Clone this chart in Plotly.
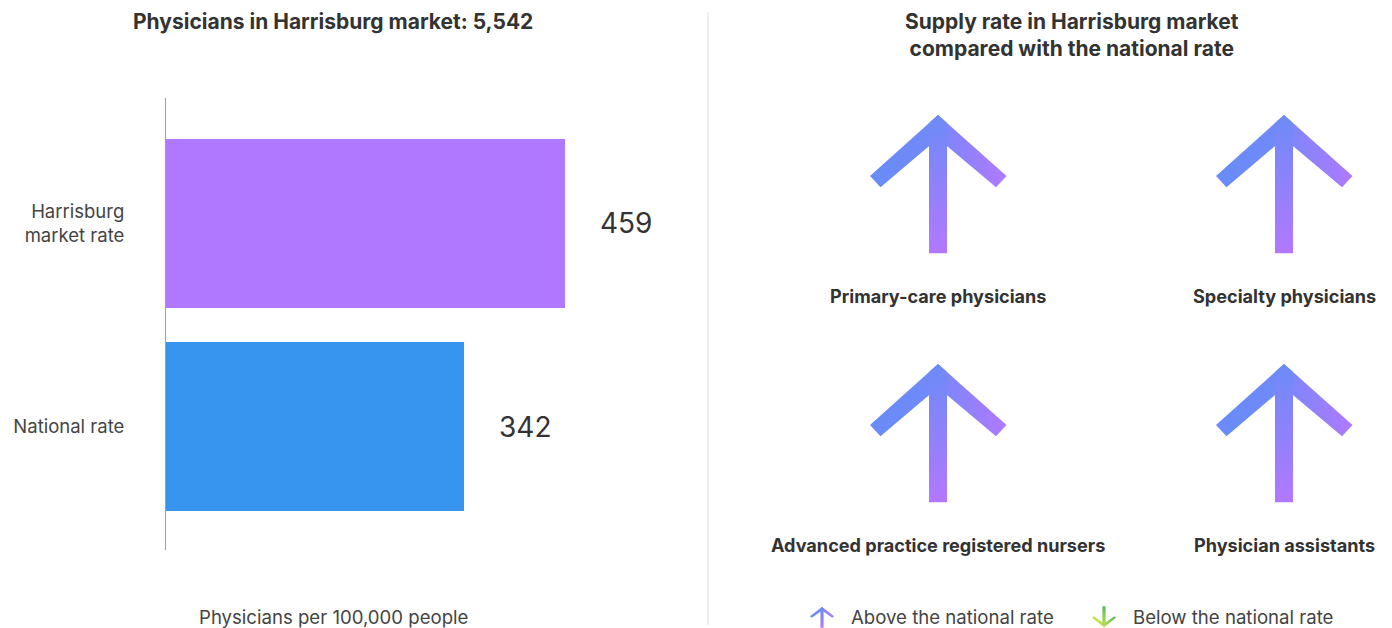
import plotly.graph_objects as go

W, H = 1392, 628
FONT = "Inter"

# ---------------- data ----------------
total_physicians = 5542
market_name = "Harrisburg"
bar_categories = ["Harrisburg<br>market rate", "National rate"]
bar_values = [459, 342]
bar_colors = ["#B077FF", "#3795EF"]

supply_categories = ["Primary-care physicians", "Specialty physicians",
                     "Advanced practice registered nursers", "Physician assistants"]
supply_direction = ["above", "above", "above", "above"]

legend_labels = ["Above the national rate", "Below the national rate"]
legend_direction = ["above", "below"]

# ---------------- helpers ----------------
def px(x):
    return x / W

def py(y):
    return 1 - y / H

UP_C0, UP_C1 = (104, 140, 247), (178, 120, 255)
DN_C0, DN_C1 = (196, 230, 70), (84, 186, 98)

def mix(c0, c1, t):
    return "rgb(%d,%d,%d)" % tuple(round(a + (b - a) * t) for a, b in zip(c0, c1))

# arrow template (relative to tip, pixel units, y downward)
LEFT_ARM = [(0, 0), (-68, 61), (-57.5, 72.3), (0, 23.4)]
RIGHT_ARM = [(0, 0), (68.5, 61), (58, 72.3), (0, 23.4)]
STEM = [(0, 0), (9, 8), (9, 138.3), (-9, 138.3), (-9, 8)]

fig = go.Figure()


def add_arrow(cx, tip, sx, sy, direction):
    c0, c1 = (UP_C0, UP_C1) if direction == "above" else (DN_C0, DN_C1)
    sign = 1 if direction == "above" else -1
    parts = [
        (LEFT_ARM, "horizontal", [[0, mix(c0, c1, 0.0)], [1, mix(c0, c1, 0.14)]]),
        (RIGHT_ARM, "horizontal", [[0, mix(c0, c1, 0.22)], [1, mix(c0, c1, 0.97)]]),
    ]
    if sign == 1:
        stem_cs = [[0, mix(c0, c1, 1.0)], [1, mix(c0, c1, 0.05)]]
    else:
        stem_cs = [[0, mix(c0, c1, 0.05)], [1, mix(c0, c1, 1.0)]]
    parts.append((STEM, "vertical", stem_cs))
    for pts, gtype, cs in parts:
        xs = [cx + dx * sx for dx, dy in pts] + [cx + pts[0][0] * sx]
        ys = [H - (tip + sign * dy * sy) for dx, dy in pts] + [H - (tip + sign * pts[0][1] * sy)]
        fig.add_trace(go.Scatter(
            x=xs, y=ys, mode="lines", fill="toself",
            fillgradient=dict(type=gtype, colorscale=cs),
            line=dict(width=0, color="rgba(0,0,0,0)"),
            xaxis="x2", yaxis="y2", hoverinfo="skip", showlegend=False))


# ---------------- left: bars ----------------
fig.add_trace(go.Bar(
    x=bar_values, y=bar_categories, orientation="h",
    marker=dict(color=bar_colors, line=dict(width=0)),
    width=0.8325, hoverinfo="skip", showlegend=False,
    xaxis="x", yaxis="y"))

annotations = []
for cat, v in zip(bar_categories, bar_values):
    annotations.append(dict(
        x=v, y=cat, xref="x", yref="y", xanchor="left", yanchor="middle",
        xshift=33, text=f"{v}", showarrow=False,
        font=dict(family=FONT, size=28, color="#333333")))

annotations.append(dict(
    x=px(333), y=py(22), xref="paper", yref="paper", xanchor="center", yanchor="middle",
    text=f"<b>Physicians in {market_name} market: {total_physicians:,}</b>",
    showarrow=False, font=dict(family=FONT, size=21, color="#333333")))
annotations.append(dict(
    x=px(333), y=py(617), xref="paper", yref="paper", xanchor="center", yanchor="middle",
    text="Physicians per 100,000 people", showarrow=False,
    font=dict(family=FONT, size=18.6, color="#444444")))

# ---------------- right: arrows ----------------
annotations.append(dict(
    x=px(1072), y=py(35.5), xref="paper", yref="paper", xanchor="center", yanchor="middle",
    text=f"<b>Supply rate in {market_name} market<br>compared with the national rate</b>",
    showarrow=False, font=dict(family=FONT, size=21, color="#333333")))

col_centers = [938, 1284]
row_tips = [115, 364]
for i, (cat, d) in enumerate(zip(supply_categories, supply_direction)):
    cx = col_centers[i % 2]
    tip = row_tips[i // 2]
    if d == "above":
        add_arrow(cx, tip, 1.0, 1.0, "above")
    else:
        add_arrow(cx, tip + 138, 1.0, 1.0, "below")
    annotations.append(dict(
        x=px(cx), y=py(tip + 181), xref="paper", yref="paper",
        xanchor="center", yanchor="middle", text=f"<b>{cat}</b>", showarrow=False,
        font=dict(family=FONT, size=18.1, color="#333333")))

# legend
legend_icon_x = [822, 1104]
legend_text_x = [849, 1131]
for lab, d, ix, tx in zip(legend_labels, legend_direction, legend_icon_x, legend_text_x):
    if d == "above":
        add_arrow(ix, 607, 0.177, 0.15, "above")
    else:
        add_arrow(ix, 627, 0.177, 0.15, "below")
    annotations.append(dict(
        x=px(tx), y=py(617), xref="paper", yref="paper", xanchor="left", yanchor="middle",
        text=lab, showarrow=False, font=dict(family=FONT, size=18.6, color="#444444")))

fig.update_layout(
    width=W, height=H, margin=dict(l=0, r=0, t=0, b=0),
    paper_bgcolor="white", plot_bgcolor="rgba(0,0,0,0)",
    font=dict(family=FONT),
    annotations=annotations,
    shapes=[dict(type="line", xref="paper", yref="paper",
                 x0=px(708), x1=px(708), y0=py(12), y1=py(625),
                 line=dict(color="#DDDDDD", width=1))],
    xaxis=dict(domain=[px(166), px(688)], range=[0, 600], showgrid=False,
               zeroline=False, showticklabels=False, showline=False, fixedrange=True),
    yaxis=dict(domain=[py(550), py(98)], type="category",
               categoryorder="array", categoryarray=bar_categories[::-1],
               range=[-0.608, 1.618], showgrid=False, zeroline=False,
               showline=True, linecolor="#A0A0A0", linewidth=1, ticks="",
               ticklabelstandoff=37,
               tickfont=dict(family=FONT, size=18.5, color="#444444"), fixedrange=True),
    xaxis2=dict(domain=[0, 1], range=[0, W], visible=False, fixedrange=True),
    yaxis2=dict(domain=[0, 1], range=[0, H], visible=False, fixedrange=True),
    bargap=0,
)

fig.write_html("out.html", config={"displayModeBar": False, "staticPlot": True},
               post_script="document.body.style.margin='0';document.body.style.overflow='hidden';")
